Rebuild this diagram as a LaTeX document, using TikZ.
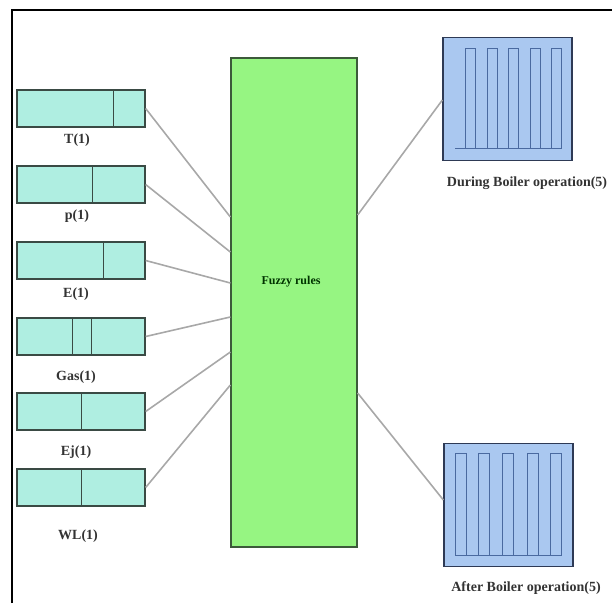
\documentclass[tikz,border=0pt]{standalone}
\usepackage{fontspec}
\setmainfont{Liberation Serif}
\usepackage{xcolor}
\usepackage{tikz}

\definecolor{incyan}{HTML}{AFEEE1}
\definecolor{inedge}{HTML}{3A4A44}
\definecolor{rulegreen}{HTML}{96F582}
\definecolor{ruleedge}{HTML}{3C5A3A}
\definecolor{outblue}{HTML}{AAC8F0}
\definecolor{outedge}{HTML}{2E3A55}
\definecolor{pulseblue}{HTML}{4A6AA0}
\definecolor{linkgray}{HTML}{A8A8A8}

\begin{document}
\begin{tikzpicture}[x=1pt, y=-1pt,
    inbox/.style={rectangle, draw=inedge, line width=1.3pt, fill=incyan, minimum width=128pt, minimum height=37pt, inner sep=0pt},
    outbox/.style={rectangle, draw=outedge, line width=1.3pt, fill=outblue, minimum width=129pt, minimum height=123pt, inner sep=0pt},
    rulebox/.style={rectangle, draw=ruleedge, line width=1.3pt, fill=rulegreen, minimum width=126pt, minimum height=489pt, inner sep=0pt},
    lbl/.style={font=\fontsize{14}{16}\selectfont\bfseries, text=black!80, inner sep=0pt},
    divide/.style={draw=inedge, line width=0.8pt},
    wave/.style={draw=pulseblue, line width=1pt},
    link/.style={draw=linkgray, line width=1.6pt}]
     \useasboundingbox (0,0) rectangle (612,603);
     \draw[line width=2.5pt] (12,603) -- (12,10) -- (612,10);

     % inputs
     \node[inbox] (T) at (81,108.5) {};
     \node[inbox] (P) at (81,184.5) {};
     \node[inbox] (E) at (81,260.5) {};
     \node[inbox] (Gas) at (81,336.5) {};
     \node[inbox] (Ej) at (81,411.5) {};
     \node[inbox] (WL) at (81,487.5) {};

     \draw[divide] (T.north -| 113,0) -- (T.south -| 113,0);
     \draw[divide] (P.north -| 92,0) -- (P.south -| 92,0);
     \draw[divide] (E.north -| 103,0) -- (E.south -| 103,0);
     \draw[divide] (Gas.north -| 72,0) -- (Gas.south -| 72,0);
     \draw[divide] (Gas.north -| 91,0) -- (Gas.south -| 91,0);
     \draw[divide] (Ej.north -| 81,0) -- (Ej.south -| 81,0);
     \draw[divide] (WL.north -| 81,0) -- (WL.south -| 81,0);

     \node[lbl] (Tlab) at (77,140) {T(1)};
     \node[lbl] (Plab) at (77,216) {p(1)};
     \node[lbl] (Elab) at (76,294) {E(1)};
     \node[lbl] (Gaslab) at (76,377) {Gas(1)};
     \node[lbl] (Ejlab) at (76,452) {Ej(1)};
     \node[lbl] (WLlab) at (78,536) {WL(1)};

     % rule base
     \node[rulebox] (rules) at (294,302.5) {};
     \node[font=\fontsize{12}{14}\selectfont\bfseries, text=black!80!green, inner sep=0pt] (fuzzy) at (291,282) {Fuzzy rules};

     % outputs
     \node[outbox] (during) at (507.5,99) {};
     \node[outbox] (after) at (508.5,505) {};
     \node[lbl] (duringlab) at (527,183) {During Boiler operation(5)};
     \node[lbl] (afterlab) at (526,588) {After Boiler operation(5)};

     \draw[wave] (455,148) -- (562,148);
     \foreach \px in {465,487,508,530,551}
        \draw[wave] (\px,148) -- (\px,48) -- (\px+10,48) -- (\px+10,148);
     \draw[wave] (455,555) -- (562,555);
     \foreach \px in {455,478,502,527,550}
        \draw[wave] (\px,555) -- (\px,453) -- (\px+11,453) -- (\px+11,555);

     % connectors
     \draw[link] (T.east) -- (rules.west |- 0,217);
     \draw[link] (P.east) -- (rules.west |- 0,252);
     \draw[link] (E.east) -- (rules.west |- 0,283);
     \draw[link] (Gas.east) -- (rules.west |- 0,317);
     \draw[link] (Ej.east) -- (rules.west |- 0,352);
     \draw[link] (WL.east) -- (rules.west |- 0,385);
     \draw[link] (rules.east |- 0,215) -- (during.west |- 0,100);
     \draw[link] (rules.east |- 0,393) -- (after.west |- 0,500);
    \end{tikzpicture}
\end{document}
